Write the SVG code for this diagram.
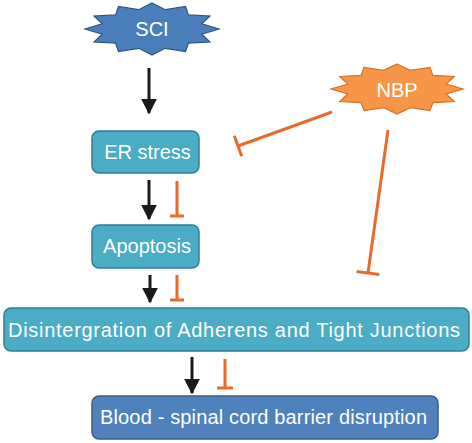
<svg xmlns="http://www.w3.org/2000/svg" width="472" height="443" viewBox="0 0 472 443">
<defs>
<style>
.lbl{font-family:"Liberation Sans",Arial,sans-serif;font-size:20px;fill:#ffffff;text-anchor:middle}
.teal{fill:#4bacc6;stroke:#357d91;stroke-width:1.5}
.blue{fill:#4f81bd;stroke:#385d8a;stroke-width:1.5}
.act{stroke:#1a1a1a;stroke-width:3;fill:none}
.inh{stroke:#ea6a2b;stroke-width:3;fill:none}
</style>
<marker id="ah" viewBox="0 0 10 10" refX="9" refY="5" markerUnits="userSpaceOnUse" markerWidth="16" markerHeight="16" orient="auto">
<path d="M0,0 L10,5 L0,10 Z" fill="#1a1a1a"/>
</marker>
</defs>
<rect width="472" height="443" fill="#ffffff"/>
<g id="connectors">
<line class="act" x1="149" y1="68" x2="149" y2="113" marker-end="url(#ah)"/>
<line class="act" x1="149" y1="180" x2="149" y2="219" marker-end="url(#ah)"/>
<line class="act" x1="150" y1="275" x2="150" y2="302" marker-end="url(#ah)"/>
<line class="act" x1="192" y1="357" x2="192" y2="393" marker-end="url(#ah)"/>
<path class="inh" d="M177,181 V216 M170,216 H184"/>
<path class="inh" d="M177,275 V300 M170,300 H184"/>
<path class="inh" d="M225,359 V388 M217,388 H233"/>
<path class="inh" d="M332,112 L238,146 M234.3,135.7 L241.7,156.3" stroke-width="3.5"/>
<path class="inh" d="M388,130 L368,273 M356.6,271.4 L379.4,274.6" stroke-width="3.5"/>
</g>
<g id="SCI">
<polygon fill="#4a7ebb" stroke="#2c5587" stroke-width="1.2" points="152,3 165.3,9.7 185.5,6.5 188.4,14.9 210,16 201.8,23.8 219,29 201.8,34.2 210,42 188.4,43.1 185.5,51.5 165.3,48.3 152,55 138.7,48.3 118.5,51.5 115.6,43.1 94,42 102.2,34.2 85,29 102.2,23.8 94,16 115.6,14.9 118.5,6.5 138.7,9.7"/>
<text class="lbl" x="152" y="36">SCI</text>
</g>
<g id="NBP">
<polygon fill="#f79646" stroke="#d5702c" stroke-width="1.2" points="397,64 410.2,70.4 430,67.4 432.9,75.4 454.2,76.5 446.1,84 463,89 446.1,94 454.2,101.5 432.9,102.6 430,110.6 410.2,107.6 397,114 383.8,107.6 364,110.6 361.1,102.6 339.8,101.5 347.9,94 331,89 347.9,84 339.8,76.5 361.1,75.4 364,67.4 383.8,70.4"/>
<text class="lbl" x="397" y="97">NBP</text>
</g>
<g id="ER">
<rect class="teal" x="92" y="131" width="107" height="42" rx="7"/>
<text class="lbl" x="147.5" y="159" font-size="21">ER stress</text>
</g>
<g id="Apoptosis">
<rect class="teal" x="92" y="225" width="107" height="43" rx="7"/>
<text class="lbl" x="147" y="253" font-size="21">Apoptosis</text>
</g>
<g id="Disintegration">
<rect class="teal" x="4" y="308" width="465" height="43" rx="7"/>
<text class="lbl" x="234" y="337" font-size="21" textLength="452" lengthAdjust="spacing">Disintergration of Adherens and Tight Junctions</text>
</g>
<g id="Blood">
<rect class="blue" x="92" y="396" width="346" height="43" rx="7"/>
<text class="lbl" x="263.5" y="424" font-size="20.5" textLength="327" lengthAdjust="spacing">Blood - spinal cord barrier disruption</text>
</g>
</svg>
